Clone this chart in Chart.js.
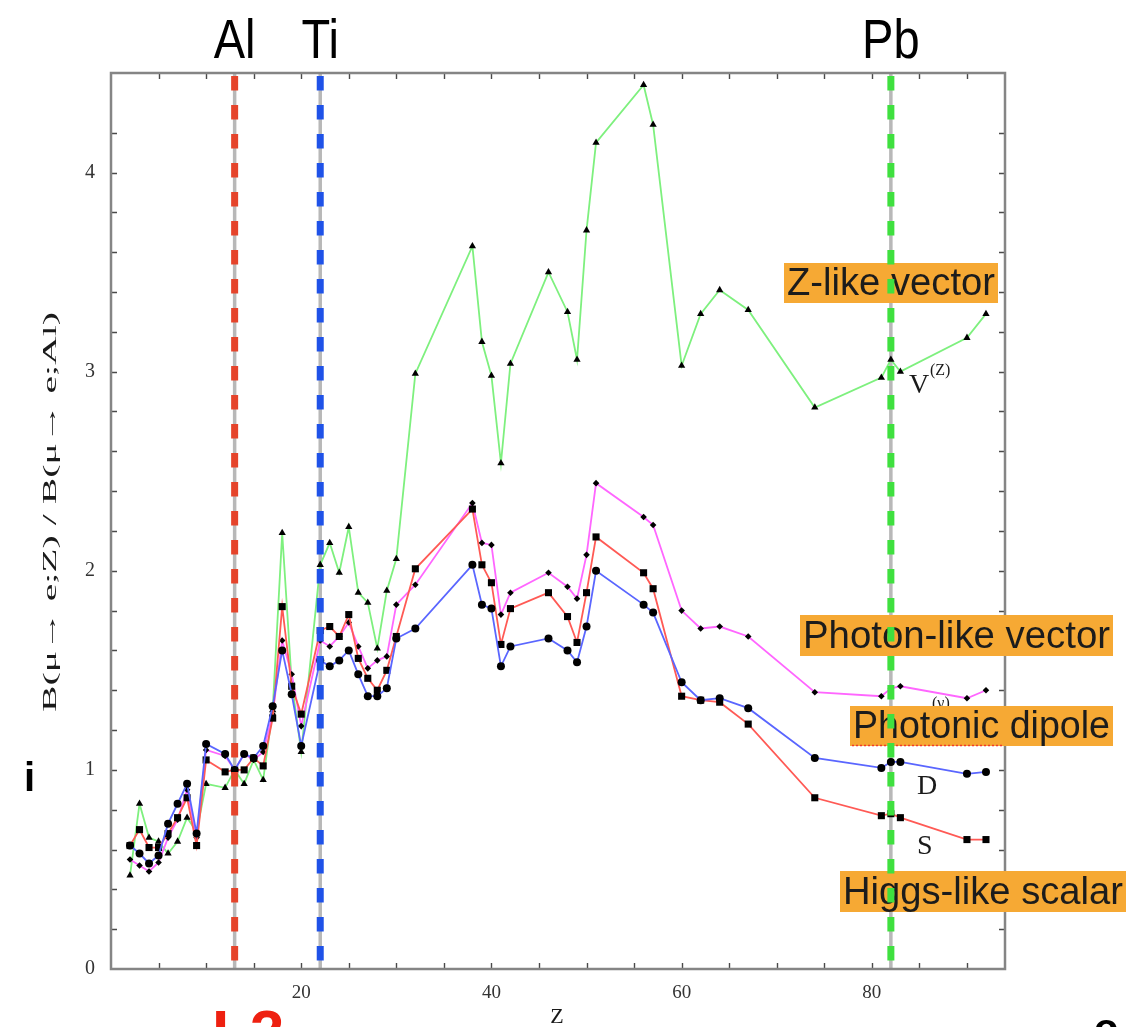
<!DOCTYPE html>
<html>
<head>
<meta charset="utf-8">
<script src="https://cdn.jsdelivr.net/npm/chart.js@4.4.1/dist/chart.umd.min.js"></script>
<style>
  html, body { margin: 0; padding: 0; background: #fff; }
  #wrap { width: 1129px; height: 1027px; position: relative; overflow: hidden; }
</style>
</head>
<body>
<div id="wrap"><canvas id="ratio" width="1129" height="1027"></canvas></div>
<script>
// atomic number of each target nucleus
const Z = [2, 3, 4, 5, 6, 7, 8, 9, 10, 12, 13, 14, 15, 16, 17, 18, 19, 20, 22, 23, 24, 25, 26, 27, 28, 29, 30, 32,
    38, 39, 40, 41, 42, 46, 48, 49, 50, 51, 56, 57, 60, 62, 64, 67, 74, 81, 82, 83, 90, 92]

// B(mu->e;Z)/B(mu->e;Al) for each operator type
const vectorZ = [0.47, 0.83, 0.66, 0.64, 0.58, 0.64, 0.76, 0.69, 0.93, 0.91, 1.0, 0.93, 1.05, 0.95, 1.30, 2.19, 1.44, 1.09,
    2.03, 2.14, 1.99, 2.22, 1.89, 1.84, 1.61, 1.90, 2.06, 2.99,
    3.63, 3.15, 2.98, 2.54, 3.04, 3.50, 3.30, 3.06, 3.71, 4.15, 4.44, 4.24, 3.03, 3.29, 3.41, 3.31, 2.82, 2.97, 3.06, 3.00, 3.17, 3.29]
const vectorGamma = [0.55, 0.52, 0.49, 0.535, 0.66, 0.75, 0.90, 0.66, 1.10, 1.07, 1.0, 1.08, 1.05, 1.09, 1.28, 1.65, 1.48, 1.22,
    1.65, 1.62, 1.67, 1.74, 1.62, 1.51, 1.55, 1.57, 1.83, 1.93,
    2.34, 2.14, 2.13, 1.78, 1.89, 1.99, 1.92, 1.86, 2.08, 2.44, 2.27, 2.23, 1.80, 1.71, 1.72, 1.67, 1.39, 1.37, 1.41, 1.42, 1.36, 1.40]
const scalarS = [0.62, 0.70, 0.61, 0.61, 0.68, 0.76, 0.86, 0.62, 1.05, 0.99, 1.0, 1.0, 1.06, 1.02, 1.26, 1.82, 1.42, 1.28,
    1.70, 1.72, 1.67, 1.78, 1.56, 1.46, 1.40, 1.50, 1.67, 2.01,
    2.31, 2.03, 1.94, 1.63, 1.81, 1.89, 1.77, 1.64, 1.89, 2.17, 1.99, 1.91, 1.37, 1.35, 1.34, 1.23, 0.86, 0.77, 0.78, 0.76, 0.65, 0.65]
const dipoleD = [0.62, 0.58, 0.53, 0.57, 0.73, 0.83, 0.93, 0.68, 1.13, 1.08, 1.0, 1.08, 1.06, 1.12, 1.32, 1.60, 1.38, 1.12,
    1.55, 1.52, 1.55, 1.60, 1.48, 1.37, 1.37, 1.41, 1.66, 1.71,
    2.03, 1.83, 1.81, 1.52, 1.62, 1.66, 1.60, 1.54, 1.72, 2.00, 1.83, 1.79, 1.44, 1.35, 1.36, 1.31, 1.06, 1.01, 1.04, 1.04, 0.98, 0.99]

// tick labels
const xLabels = [20, 40, 60, 80]
const yLabels = [0, 1, 2, 3, 4]

// marked targets
const targets = ['Al', 'Ti', 'Pb']
const targetZ = [13, 22, 82]
const targetColor = ['#e5442b', '#1f52e8', '#3fe03f']

const boxes = [
    { text: 'Z-like vector', x: 784, y: 263, w: 214, h: 40 },
    { text: 'Photon-like vector', x: 800, y: 615, w: 313, h: 41 },
    { text: 'Photonic dipole', x: 850, y: 706, w: 263, h: 40 },
    { text: 'Higgs-like scalar', x: 840, y: 871, w: 286, h: 41 }
]

const SERIF = '"Liberation Serif", "Times New Roman", serif'
const SANS = '"Liberation Sans", Arial, sans-serif'

function points(values) {
    return Z.map((z, i) => ({ x: z, y: values[i] }))
}

function near(v, list) {
    return list.some((l) => Math.abs(l - v) < 1e-6)
}

function stretchText(ctx, text, x, y, width, sy) {
    let w = ctx.measureText(text).width
    ctx.save()
    ctx.translate(x, y)
    ctx.scale(width / w, sy || 1)
    ctx.fillText(text, 0, 0)
    ctx.restore()
}

const backdrop = {
    id: 'backdrop',
    beforeDatasetsDraw(chart) {
        let { ctx, chartArea } = chart
        let xs = chart.scales.x
        ctx.save()
        ctx.strokeStyle = '#b8b8b8'
        ctx.lineWidth = 3.5
        targetZ.forEach((z) => {
            let px = xs.getPixelForValue(z)
            ctx.beginPath()
            ctx.moveTo(px, chartArea.top)
            ctx.lineTo(px, chartArea.bottom)
            ctx.stroke()
        })
        ctx.restore()
    },
    afterDraw(chart) {
        let { ctx, chartArea } = chart
        let xs = chart.scales.x
        let ys = chart.scales.y
        let { left, right, top, bottom } = chartArea
        ctx.save()

        // inward ticks on all four sides
        ctx.strokeStyle = '#4a4a4a'
        ctx.lineWidth = 1.4
        xs.ticks.forEach((t) => {
            if (t.value <= xs.min || t.value >= xs.max) return
            let px = Math.round(xs.getPixelForValue(t.value)) + 0.5
            ctx.beginPath()
            ctx.moveTo(px, bottom); ctx.lineTo(px, bottom - 6)
            ctx.moveTo(px, top); ctx.lineTo(px, top + 6)
            ctx.stroke()
        })
        ys.ticks.forEach((t) => {
            if (t.value <= ys.min || t.value >= ys.max) return
            let py = Math.round(ys.getPixelForValue(t.value)) + 0.5
            ctx.beginPath()
            ctx.moveTo(left, py); ctx.lineTo(left + 6, py)
            ctx.moveTo(right, py); ctx.lineTo(right - 6, py)
            ctx.stroke()
        })

        // frame
        ctx.strokeStyle = '#858585'
        ctx.lineWidth = 2.5
        ctx.strokeRect(left, top, right - left, bottom - top)

        // curve labels
        ctx.fillStyle = '#1a1a1a'
        ctx.font = '28px ' + SERIF
        ctx.fillText('V', 909, 393)
        ctx.fillText('V', 911, 726)
        ctx.fillText('D', 917, 794)
        ctx.fillText('S', 917, 854)
        ctx.font = '16px ' + SERIF
        ctx.fillText('(Z)', 930, 375)
        ctx.fillText('(\u03b3)', 932, 708)

        // axis titles
        ctx.font = '24px ' + SERIF
        ctx.save()
        ctx.translate(56, 712)
        ctx.rotate(-Math.PI / 2)
        stretchText(ctx, 'B(\u03bc\u2192 e;Z) / B(\u03bc\u2192 e;Al)', 0, 0, 400, 0.8)
        ctx.restore()
        ctx.font = '22px ' + SERIF
        ctx.textAlign = 'center'
        ctx.fillText('Z', 557, 1023)

        // highlighted boxes
        ctx.textAlign = 'left'
        boxes.forEach((b) => {
            ctx.fillStyle = '#f6a934'
            ctx.fillRect(b.x, b.y, b.w, b.h)
            ctx.fillStyle = '#1c1c1c'
            ctx.font = '38px ' + SANS
            stretchText(ctx, b.text, b.x + 3, b.y + b.h - 8, b.w - 6)
        })
        // spell-check squiggle under "Photonic dipole"
        ctx.strokeStyle = '#f03a2a'
        ctx.lineWidth = 1.6
        ctx.setLineDash([2, 2])
        ctx.beginPath()
        ctx.moveTo(852, 745.5); ctx.lineTo(1002, 745.5)
        ctx.stroke()

        // dashed marker lines and element names
        ctx.lineWidth = 7
        ctx.setLineDash([14.5, 14.5])
        targetZ.forEach((z, i) => {
            let px = xs.getPixelForValue(z)
            ctx.strokeStyle = targetColor[i]
            ctx.lineDashOffset = 0
            ctx.beginPath()
            ctx.moveTo(px, top + 3)
            ctx.lineTo(px, bottom - 6)
            ctx.stroke()
        })
        ctx.setLineDash([])
        ctx.fillStyle = '#000'
        ctx.font = '56px ' + SANS
        targetZ.forEach((z, i) => {
            let px = xs.getPixelForValue(z)
            let w = ctx.measureText(targets[i]).width * 0.84
            stretchText(ctx, targets[i], px - w / 2, 58, w)
        })

        // cut-off slide text
        ctx.font = 'bold 40px ' + SANS
        ctx.fillText('i', 24, 791)
        ctx.fillText('o', 1094, 1042)
        ctx.fillStyle = '#ee2010'
        ctx.font = 'bold 62px ' + SANS
        ctx.fillText('L2', 212, 1053)

        ctx.restore()
    }
}

const ctx = document.getElementById('ratio').getContext('2d')
new Chart(ctx, {
    type: 'line',
    data: {
        datasets: [
            { label: 'D', data: points(dipoleD), borderColor: '#5a66ff', pointStyle: 'circle', pointRadius: 4 },
            { label: 'S', data: points(scalarS), borderColor: '#ff5a55', pointStyle: 'rect', pointRadius: 5 },
            { label: 'V(gamma)', data: points(vectorGamma), borderColor: '#ff66ff', pointStyle: 'rectRot', pointRadius: 3.3 },
            { label: 'V(Z)', data: points(vectorZ), borderColor: '#7ef07e', pointStyle: 'triangle', pointRadius: 4.2 }
        ].map((d) => Object.assign(d, {
            borderWidth: 1.8,
            pointBackgroundColor: '#000',
            pointBorderColor: '#000',
            pointBorderWidth: 0,
            tension: 0,
            fill: false
        }))
    },
    options: {
        responsive: false,
        animation: false,
        devicePixelRatio: 1,
        layout: { padding: { top: 73, right: 124, left: 0, bottom: 0 } },
        plugins: { legend: { display: false }, tooltip: { enabled: false } },
        scales: {
            x: {
                type: 'linear',
                min: 0,
                max: 94,
                grid: { display: false },
                border: { display: false },
                ticks: {
                    stepSize: 5,
                    autoSkip: false,
                    maxRotation: 0,
                    padding: 5,
                    color: '#333',
                    font: { family: SERIF, size: 19 },
                    callback: (v) => near(v, xLabels) ? String(v) : ''
                },
                afterFit: (scale) => { scale.height = 58 }
            },
            y: {
                min: 0,
                max: 4.5,
                grid: { display: false },
                border: { display: false },
                ticks: {
                    stepSize: 0.2,
                    autoSkip: false,
                    padding: 8,
                    color: '#333',
                    font: { family: SERIF, size: 20 },
                    callback: (v) => near(v, yLabels) ? String(Math.round(v)) : ''
                },
                afterFit: (scale) => { scale.width = 111 }
            }
        }
    },
    plugins: [backdrop]
})
</script>
</body>
</html>
